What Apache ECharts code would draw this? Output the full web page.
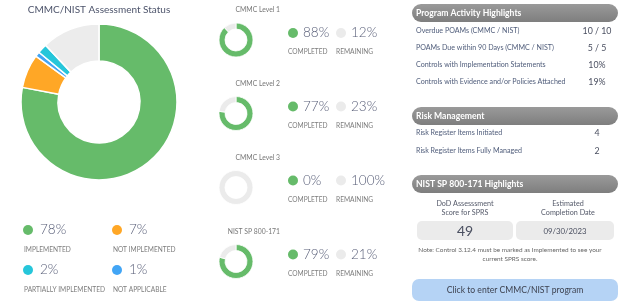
<!DOCTYPE html>
<html>
<head>
<meta charset="utf-8">
<script src="https://cdn.jsdelivr.net/npm/echarts@6/dist/echarts.min.js"></script>
<style>
  html, body { margin: 0; padding: 0; background: #fff; }
  #main { width: 622px; height: 305px; }
</style>
</head>
<body>
<div id="main"></div>
<script>
// assessment status (big donut)
const statusNames = ['IMPLEMENTED', 'NOT IMPLEMENTED', 'PARTIALLY IMPLEMENTED', 'NOT APPLICABLE'];
const statusValues = [78, 7, 2, 1];
const statusRest = 12;
const statusColors = ['#66bb6a', '#ffa726', '#26c6da', '#42a5f5'];

// levels (small donuts)
const levelNames = ['CMMC Level 1', 'CMMC Level 2', 'CMMC Level 3', 'NIST SP 800-171'];
const levelCompleted = [88, 77, 0, 79];
const levelRemaining = [12, 23, 100, 21];

// right side tables
const activityLabels = [
  'Overdue POAMs (CMMC / NIST)',
  'POAMs Due within 90 Days (CMMC / NIST)',
  'Controls with Implementation Statements',
  'Controls with Evidence and/or Policies Attached'
];
const activityValues = ['10 / 10', '5 / 5', '10%', '19%'];
const riskLabels = ['Risk Register Items Initiated', 'Risk Register Items Fully Managed'];
const riskValues = ['4', '2'];
const sprsScore = 49;
const completionDate = '09/30/2023';

const FONT = 'Lato, "Open Sans", sans-serif';
const GREEN = '#66bb6a';
const GREY = '#ebebeb';

function txt(text, x, y, size, color, align, weight) {
  return {
    type: 'text',
    style: {
      text: text, x: x, y: y,
      font: (weight || 'normal') + ' ' + size + 'px ' + FONT,
      fill: color,
      align: align || 'left', textAlign: align || 'left',
      verticalAlign: 'middle', textVerticalAlign: 'middle'
    }
  };
}
function dot(x, y, color) {
  return { type: 'circle', shape: { cx: x, cy: y, r: 5 }, style: { fill: color } };
}
function header(text, y) {
  return [
    {
      type: 'rect',
      shape: { x: 412, y: y, width: 206, height: 18, r: 9 },
      style: {
        fill: new echarts.graphic.LinearGradient(0, 0, 0, 1, [
          { offset: 0, color: '#9a9a9a' },
          { offset: 1, color: '#7e7e7e' }
        ])
      }
    },
    txt(text, 416, y + 9.5, 8.6, '#ffffff', 'left', 'bold')
  ];
}

const series = [];
const graphics = [];

// big donut
const bigData = statusNames.map((n, i) => ({ name: n, value: statusValues[i], itemStyle: { color: statusColors[i] } }));
// clockwise order in the picture: implemented, not implemented, not applicable, partial, rest
series.push({
  type: 'pie',
  center: [99, 102],
  radius: [41, 78],
  startAngle: 90,
  silent: true,
  label: { show: false },
  itemStyle: { borderColor: '#fff', borderWidth: 1.5 },
  data: [bigData[0], bigData[1], bigData[3], bigData[2],
    { name: 'rest', value: statusRest, itemStyle: { color: '#ececec' } }]
});
graphics.push(txt('CMMC/NIST Assessment Status', 99, 10, 10, '#4d546b', 'center'));

const legendPos = [[28, 230], [117, 230], [28, 270], [117, 270]];
statusNames.forEach((n, i) => {
  const p = legendPos[i];
  graphics.push(dot(p[0], p[1], statusColors[i]));
  graphics.push(txt(statusValues[i] + '%', p[0] + 12, p[1], 13.5, '#585e78', 'left', '300'));
  graphics.push(txt(n, p[0] - 4, p[1] + 20, 6.6, '#7d7d7d', 'left'));
});

// level donuts
const blockY = [0, 73.5, 147.5, 221.5];
levelNames.forEach((n, i) => {
  const y0 = blockY[i];
  series.push({
    type: 'pie',
    center: [236, 40 + y0],
    radius: [11, 17],
    startAngle: 90,
    silent: true,
    label: { show: false },
    itemStyle: { borderColor: '#fff', borderWidth: 0.8 },
    data: [
      { name: 'Completed', value: levelCompleted[i], itemStyle: { color: GREEN } },
      { name: 'Remaining', value: levelRemaining[i], itemStyle: { color: GREY } }
    ]
  });
  graphics.push(txt(n, 280, 10 + y0, 6.8, '#777777', 'right'));
  graphics.push(dot(293, 33 + y0, GREEN));
  graphics.push(txt(levelCompleted[i] + '%', 303, 33 + y0, 13.5, '#585e78', 'left', '300'));
  graphics.push(dot(341, 33 + y0, GREY));
  graphics.push(txt(levelRemaining[i] + '%', 351, 33 + y0, 13.5, '#585e78', 'left', '300'));
  graphics.push(txt('COMPLETED', 288, 52 + y0, 6.6, '#7d7d7d', 'left'));
  graphics.push(txt('REMAINING', 336, 52 + y0, 6.6, '#7d7d7d', 'left'));
});

// program activity highlights
graphics.push(...header('Program Activity Highlights', 4));
activityLabels.forEach((l, i) => {
  graphics.push(txt(l, 416, 31 + i * 17, 7.1, '#4f5c7a', 'left'));
  graphics.push(txt(activityValues[i], 597, 31 + i * 17, 8.8, '#4a4f60', 'center'));
});

// risk management
graphics.push(...header('Risk Management', 107));
riskLabels.forEach((l, i) => {
  graphics.push(txt(l, 416, 133 + i * 18, 7.1, '#4f5c7a', 'left'));
  graphics.push(txt(riskValues[i], 597, 133 + i * 18, 8.8, '#4a4f60', 'center'));
});

// NIST highlights
graphics.push(...header('NIST SP 800-171 Highlights', 175));
graphics.push(txt('DoD Assesssment', 465, 204, 7.2, '#555a6a', 'center'));
graphics.push(txt('Score for SPRS', 465, 213, 7.2, '#555a6a', 'center'));
graphics.push(txt('Estimated', 568, 204, 7.2, '#555a6a', 'center'));
graphics.push(txt('Completion Date', 568, 213, 7.2, '#555a6a', 'center'));
graphics.push({ type: 'rect', shape: { x: 417, y: 221, width: 96, height: 19, r: 5 }, style: { fill: '#ebebeb' } });
graphics.push({ type: 'rect', shape: { x: 516, y: 221, width: 98, height: 19, r: 5 }, style: { fill: '#ebebeb' } });
graphics.push(txt(String(sprsScore), 465, 231, 14, '#4a4f60', 'center'));
graphics.push(txt(completionDate, 565, 231, 7.8, '#4a4f60', 'center'));
graphics.push(txt('Note: Control 3.12.4 must be marked as Implemented to see your', 510, 250, 6.4, '#666666', 'center'));
graphics.push(txt('current SPRS score.', 510, 259, 6.4, '#666666', 'center'));
graphics.push({ type: 'rect', shape: { x: 412, y: 279, width: 206, height: 22, r: 7 }, style: { fill: '#b5d3f5' } });
graphics.push(txt('Click to enter CMMC/NIST program', 515, 290.5, 8.6, '#3d4250', 'center'));

const chart = echarts.init(document.getElementById('main'), null, { renderer: 'canvas' });
chart.setOption({
  animation: false,
  backgroundColor: '#ffffff',
  series: series,
  graphic: graphics
});
</script>
</body>
</html>
